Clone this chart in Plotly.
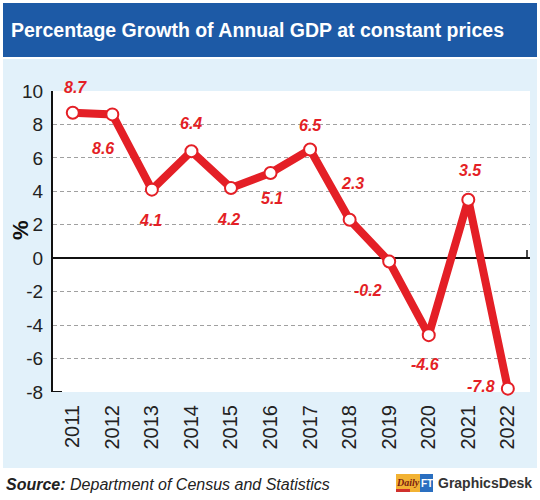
import plotly.graph_objects as go

years = ["2011", "2012", "2013", "2014", "2015", "2016", "2017", "2018", "2019", "2020", "2021", "2022"]
growth = [8.7, 8.6, 4.1, 6.4, 4.2, 5.1, 6.5, 2.3, -0.2, -4.6, 3.5, -7.8]
label_text = ["8.7", "8.6", "4.1", "6.4", "4.2", "5.1", "6.5", "2.3", "-0.2", "-4.6", "3.5", "-7.8"]
y_ticks = [10, 8, 6, 4, 2, 0, -2, -4, -6, -8]

# pixel offsets of each value label from its point (style/position only)
label_dx = [3, -9, -1, 0, -2, 1, 0, 3, -21, -4, 2, -27]
label_dy = [25, -34, -31, 28, -32, -26, 24, 36, -29, -29, 29, 2]

W, H = 540, 500
L, R, T, B = 53, 530, 91, 392
def px(x):
    return (x - L) / (R - L)
def py(y):
    return (B - y) / (B - T)

SANS = "Liberation Sans, Arial, Helvetica, sans-serif"
RED = "#e41f26"

fig = go.Figure()
fig.add_trace(go.Scatter(
    x=list(range(len(years))), y=growth, mode="lines+markers",
    line=dict(color=RED, width=8),
    marker=dict(size=12, color="white", line=dict(color=RED, width=2)),
    hoverinfo="skip", showlegend=False, cliponaxis=False,
))

shapes = [
    dict(type="rect", xref="paper", yref="paper", x0=px(3), x1=px(537), y0=py(468), y1=py(59),
         fillcolor="#e2f1fa", line=dict(width=0), layer="below"),
    dict(type="rect", xref="paper", yref="paper", x0=0, x1=1, y0=0, y1=1,
         fillcolor="white", line=dict(width=0), layer="below"),
    dict(type="rect", xref="paper", yref="paper", x0=px(3), x1=px(537), y0=py(57), y1=py(3),
         fillcolor="#1d5aa6", line=dict(width=0), layer="below"),
    # decorative ticks
    dict(type="line", xref="paper", yref="y", x0=0, x1=px(62), y0=-8, y1=-8,
         line=dict(color="#111", width=2)),
    dict(type="line", xref="paper", yref="paper", x0=px(527), x1=px(527), y0=py(258), y1=py(250),
         line=dict(color="#111", width=1.5)),
    # logo boxes
    dict(type="rect", xref="paper", yref="paper", x0=px(396), x1=px(420), y0=py(492), y1=py(474),
         fillcolor="#f2b233", line=dict(width=0), layer="above"),
    dict(type="rect", xref="paper", yref="paper", x0=px(396), x1=px(410), y0=py(492), y1=py(489),
         fillcolor="#d0312d", line=dict(width=0), layer="above"),
    dict(type="rect", xref="paper", yref="paper", x0=px(420), x1=px(433), y0=py(492), y1=py(474),
         fillcolor="#2a6fc0", line=dict(width=0), layer="above"),
]

annotations = [
    dict(xref="paper", yref="paper", x=px(9), y=py(30), xanchor="left", yanchor="middle",
         text="<b>Percentage Growth of Annual GDP at constant prices</b>", showarrow=False,
         font=dict(family=SANS, size=19.5, color="white")),
    dict(xref="paper", yref="paper", x=px(20), y=py(230), xanchor="center", yanchor="middle",
         text="<b>%</b>", textangle=-90, showarrow=False,
         font=dict(family=SANS, size=22, color="#111")),
    dict(xref="paper", yref="paper", x=px(4), y=py(484), xanchor="left", yanchor="middle",
         text="<b><i>Source:</i></b><i> Department of Census and Statistics</i>", showarrow=False,
         font=dict(family=SANS, size=16, color="#222")),
    dict(xref="paper", yref="paper", x=px(408), y=py(482), xanchor="center", yanchor="middle",
         text="<i><b>Daily</b></i>", showarrow=False,
         font=dict(family="Liberation Serif, serif", size=10, color="#7a1d12")),
    dict(xref="paper", yref="paper", x=px(426.5), y=py(483), xanchor="center", yanchor="middle",
         text="<b>FT</b>", showarrow=False,
         font=dict(family=SANS, size=10, color="white")),
    dict(xref="paper", yref="paper", x=px(436), y=py(483), xanchor="left", yanchor="middle",
         text="<b>GraphicsDesk</b>", showarrow=False,
         font=dict(family=SANS, size=14, color="#333")),
]
for i, (t, v) in enumerate(zip(label_text, growth)):
    annotations.append(dict(
        x=i, y=v, xref="x", yref="y", text="<b><i>" + t + "</i></b>", showarrow=False,
        xshift=label_dx[i], yshift=label_dy[i], xanchor="center", yanchor="middle",
        font=dict(family=SANS, size=16, color=RED),
    ))

fig.update_layout(
    width=W, height=H,
    margin=dict(l=L, r=W - R, t=T, b=H - B),
    paper_bgcolor="white", plot_bgcolor="rgba(0,0,0,0)",
    shapes=shapes, annotations=annotations, showlegend=False,
    xaxis=dict(
        range=[-0.5, 11.56], tickmode="array", tickvals=list(range(len(years))), ticktext=years,
        tickangle=-90, showgrid=False, zeroline=False, showline=False, ticks="",
        ticklabelstandoff=8,
        tickfont=dict(family=SANS, size=20, color="#222"),
    ),
    yaxis=dict(
        range=[-8, 10], tickmode="array", tickvals=y_ticks, ticktext=[str(v) for v in y_ticks],
        showgrid=True, gridcolor="#a0a0a0", griddash="4px,3px", gridwidth=1,
        zeroline=True, zerolinecolor="#111", zerolinewidth=2,
        showline=True, linecolor="#111", linewidth=2, ticks="",
        ticklabelstandoff=4,
        tickfont=dict(family=SANS, size=19, color="#222"),
    ),
)

fig.write_html("out.html", config={"displayModeBar": False},
               post_script="document.body.style.margin='0';")
